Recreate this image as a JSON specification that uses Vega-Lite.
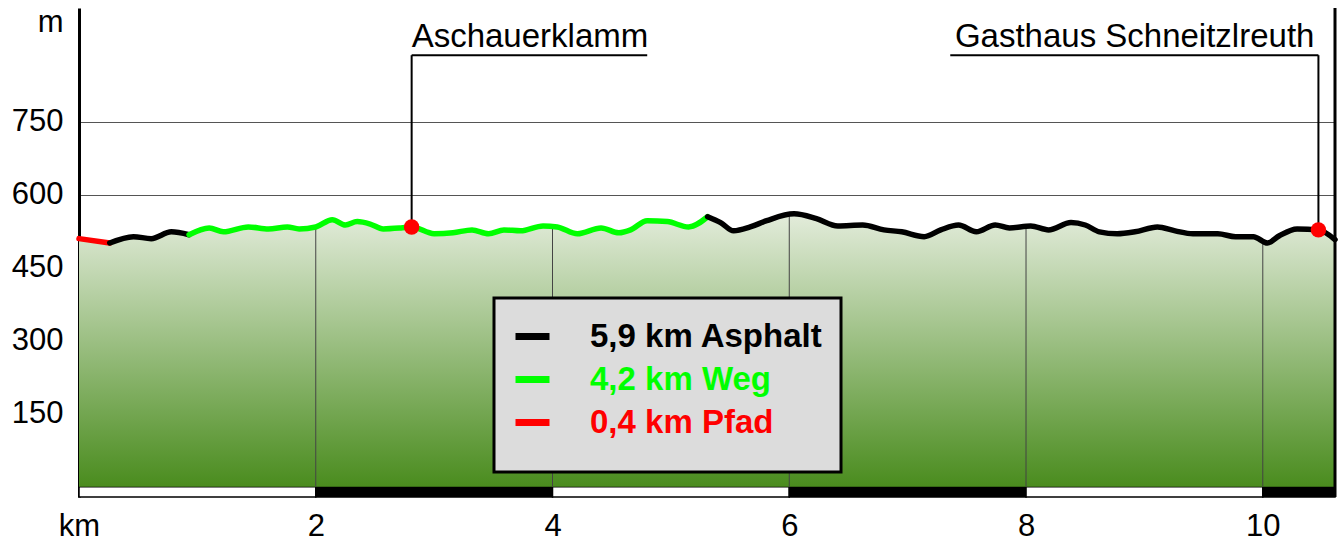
{
  "$schema": "https://vega.github.io/schema/vega-lite/v6.json",
  "autosize": {"type": "none"},
  "width": 1256,
  "height": 489,
  "padding": {"left": 79, "top": 8, "right": 5, "bottom": 46},
  "background": "#ffffff",
  "config": {
    "view": {"stroke": null},
    "font": "Liberation Sans",
    "axisX": {"domain": false, "ticks": false, "grid": false, "labelFont": "Liberation Sans", "labelFontSize": 31, "labelColor": "#000000", "labelPadding": 14, "labelFlush": false, "labelAngle": 0},
    "axisY": {"ticks": false, "domain": true, "domainColor": "#000000", "domainWidth": 3, "grid": true, "gridColor": "#555555", "gridWidth": 1, "labelFont": "Liberation Sans", "labelFontSize": 31, "labelColor": "#000000", "labelPadding": 16, "labelFlush": false, "zindex": 1}
  },
  "datasets": {
    "profil": [
      {"km": 0.00, "hoehe": 510, "belag": "Pfad", "abschnitt": 1},
      {"km": 0.26, "hoehe": 501, "belag": "Pfad", "abschnitt": 1},
      {"km": 0.26, "hoehe": 501, "belag": "Asphalt", "abschnitt": 2},
      {"km": 0.46, "hoehe": 514, "belag": "Asphalt", "abschnitt": 2},
      {"km": 0.61, "hoehe": 510, "belag": "Asphalt", "abschnitt": 2},
      {"km": 0.78, "hoehe": 524, "belag": "Asphalt", "abschnitt": 2},
      {"km": 0.93, "hoehe": 518, "belag": "Asphalt", "abschnitt": 2},
      {"km": 0.93, "hoehe": 518, "belag": "Weg", "abschnitt": 3},
      {"km": 1.10, "hoehe": 532, "belag": "Weg", "abschnitt": 3},
      {"km": 1.22, "hoehe": 524, "belag": "Weg", "abschnitt": 3},
      {"km": 1.43, "hoehe": 534, "belag": "Weg", "abschnitt": 3},
      {"km": 1.60, "hoehe": 530, "belag": "Weg", "abschnitt": 3},
      {"km": 1.76, "hoehe": 534, "belag": "Weg", "abschnitt": 3},
      {"km": 1.86, "hoehe": 530, "belag": "Weg", "abschnitt": 3},
      {"km": 2.00, "hoehe": 534, "belag": "Weg", "abschnitt": 3},
      {"km": 2.14, "hoehe": 549, "belag": "Weg", "abschnitt": 3},
      {"km": 2.25, "hoehe": 538, "belag": "Weg", "abschnitt": 3},
      {"km": 2.35, "hoehe": 545, "belag": "Weg", "abschnitt": 3},
      {"km": 2.46, "hoehe": 540, "belag": "Weg", "abschnitt": 3},
      {"km": 2.57, "hoehe": 530, "belag": "Weg", "abschnitt": 3},
      {"km": 2.72, "hoehe": 532, "belag": "Weg", "abschnitt": 3},
      {"km": 2.81, "hoehe": 534, "belag": "Weg", "abschnitt": 3},
      {"km": 3.00, "hoehe": 520, "belag": "Weg", "abschnitt": 3},
      {"km": 3.16, "hoehe": 522, "belag": "Weg", "abschnitt": 3},
      {"km": 3.32, "hoehe": 528, "belag": "Weg", "abschnitt": 3},
      {"km": 3.46, "hoehe": 520, "belag": "Weg", "abschnitt": 3},
      {"km": 3.59, "hoehe": 528, "belag": "Weg", "abschnitt": 3},
      {"km": 3.73, "hoehe": 526, "belag": "Weg", "abschnitt": 3},
      {"km": 3.92, "hoehe": 536, "belag": "Weg", "abschnitt": 3},
      {"km": 4.04, "hoehe": 534, "belag": "Weg", "abschnitt": 3},
      {"km": 4.21, "hoehe": 520, "belag": "Weg", "abschnitt": 3},
      {"km": 4.41, "hoehe": 532, "belag": "Weg", "abschnitt": 3},
      {"km": 4.56, "hoehe": 522, "belag": "Weg", "abschnitt": 3},
      {"km": 4.66, "hoehe": 528, "belag": "Weg", "abschnitt": 3},
      {"km": 4.80, "hoehe": 547, "belag": "Weg", "abschnitt": 3},
      {"km": 4.97, "hoehe": 545, "belag": "Weg", "abschnitt": 3},
      {"km": 5.15, "hoehe": 534, "belag": "Weg", "abschnitt": 3},
      {"km": 5.31, "hoehe": 555, "belag": "Weg", "abschnitt": 3},
      {"km": 5.31, "hoehe": 555, "belag": "Asphalt", "abschnitt": 4},
      {"km": 5.42, "hoehe": 543, "belag": "Asphalt", "abschnitt": 4},
      {"km": 5.53, "hoehe": 526, "belag": "Asphalt", "abschnitt": 4},
      {"km": 5.67, "hoehe": 534, "belag": "Asphalt", "abschnitt": 4},
      {"km": 5.81, "hoehe": 547, "belag": "Asphalt", "abschnitt": 4},
      {"km": 6.04, "hoehe": 561, "belag": "Asphalt", "abschnitt": 4},
      {"km": 6.23, "hoehe": 551, "belag": "Asphalt", "abschnitt": 4},
      {"km": 6.41, "hoehe": 536, "belag": "Asphalt", "abschnitt": 4},
      {"km": 6.62, "hoehe": 538, "belag": "Asphalt", "abschnitt": 4},
      {"km": 6.80, "hoehe": 528, "belag": "Asphalt", "abschnitt": 4},
      {"km": 6.95, "hoehe": 524, "belag": "Asphalt", "abschnitt": 4},
      {"km": 7.14, "hoehe": 514, "belag": "Asphalt", "abschnitt": 4},
      {"km": 7.28, "hoehe": 528, "belag": "Asphalt", "abschnitt": 4},
      {"km": 7.43, "hoehe": 538, "belag": "Asphalt", "abschnitt": 4},
      {"km": 7.58, "hoehe": 524, "belag": "Asphalt", "abschnitt": 4},
      {"km": 7.74, "hoehe": 538, "belag": "Asphalt", "abschnitt": 4},
      {"km": 7.86, "hoehe": 532, "belag": "Asphalt", "abschnitt": 4},
      {"km": 8.04, "hoehe": 536, "belag": "Asphalt", "abschnitt": 4},
      {"km": 8.19, "hoehe": 528, "belag": "Asphalt", "abschnitt": 4},
      {"km": 8.38, "hoehe": 543, "belag": "Asphalt", "abschnitt": 4},
      {"km": 8.50, "hoehe": 538, "belag": "Asphalt", "abschnitt": 4},
      {"km": 8.62, "hoehe": 524, "belag": "Asphalt", "abschnitt": 4},
      {"km": 8.77, "hoehe": 520, "belag": "Asphalt", "abschnitt": 4},
      {"km": 8.92, "hoehe": 524, "belag": "Asphalt", "abschnitt": 4},
      {"km": 9.11, "hoehe": 534, "belag": "Asphalt", "abschnitt": 4},
      {"km": 9.26, "hoehe": 526, "belag": "Asphalt", "abschnitt": 4},
      {"km": 9.41, "hoehe": 520, "belag": "Asphalt", "abschnitt": 4},
      {"km": 9.62, "hoehe": 520, "belag": "Asphalt", "abschnitt": 4},
      {"km": 9.77, "hoehe": 514, "belag": "Asphalt", "abschnitt": 4},
      {"km": 9.92, "hoehe": 514, "belag": "Asphalt", "abschnitt": 4},
      {"km": 10.04, "hoehe": 501, "belag": "Asphalt", "abschnitt": 4},
      {"km": 10.14, "hoehe": 516, "belag": "Asphalt", "abschnitt": 4},
      {"km": 10.29, "hoehe": 530, "belag": "Asphalt", "abschnitt": 4},
      {"km": 10.47, "hoehe": 528, "belag": "Asphalt", "abschnitt": 4},
      {"km": 10.61, "hoehe": 508, "belag": "Asphalt", "abschnitt": 4}
    ],
    "gitter": [
      {"km": 2, "hoehe": 534},
      {"km": 4, "hoehe": 535},
      {"km": 6, "hoehe": 560},
      {"km": 8, "hoehe": 535},
      {"km": 10, "hoehe": 505}
    ],
    "massstab": [
      {"von": 0, "bis": 2, "band": "hell"},
      {"von": 2, "bis": 4, "band": "dunkel"},
      {"von": 4, "bis": 6, "band": "hell"},
      {"von": 6, "bis": 8, "band": "dunkel"},
      {"von": 8, "bis": 10, "band": "hell"},
      {"von": 10, "bis": 10.61, "band": "dunkel"}
    ],
    "orte": [
      {"name": "Aschauerklamm", "km": 2.81, "hoehe": 534, "linie_bis": 4.8, "seite": "links"},
      {"name": "Gasthaus Schneitzlreuth", "km": 10.47, "hoehe": 528, "linie_bis": 7.36, "seite": "rechts"}
    ],
    "ende": [
      {"km": 10.61, "unten": -21, "oben": 984}
    ]
  },
  "layer": [
    {
      "data": {"name": "massstab"},
      "mark": {"type": "rect", "stroke": "#000000", "strokeWidth": 1.5},
      "encoding": {
        "x": {"field": "von", "type": "quantitative", "scale": {"domain": [0, 10.61], "nice": false, "zero": false},
          "axis": {"values": [0, 2, 4, 6, 8, 10], "labelExpr": "datum.value == 0 ? 'km' : datum.label", "title": null}},
        "x2": {"field": "bis"},
        "y": {"datum": -21, "type": "quantitative", "scale": {"domain": [-21, 984], "nice": false, "zero": false},
          "axis": {"values": [150, 300, 450, 600, 750, 955], "labelExpr": "datum.value > 900 ? 'm' : datum.label", "title": null,
            "gridOpacity": {"condition": {"test": "datum.value > 900", "value": 0}, "value": 1}}},
        "y2": {"datum": 0},
        "fill": {"field": "band", "type": "nominal", "scale": {"domain": ["hell", "dunkel"], "range": ["#ffffff", "#000000"]}, "legend": null}
      }
    },
    {
      "data": {"name": "profil"},
      "transform": [
        {"aggregate": [{"op": "max", "field": "hoehe", "as": "hoehe"}], "groupby": ["km"]}
      ],
      "mark": {
        "type": "area",
        "interpolate": "monotone",
        "color": {
          "gradient": "linear", "x1": 0, "y1": 0, "x2": 0, "y2": 1,
          "stops": [{"offset": 0, "color": "#e3ecdb"}, {"offset": 1, "color": "#4a8c1e"}]
        }
      },
      "encoding": {
        "x": {"field": "km", "type": "quantitative",
          "axis": {"values": [0, 2, 4, 6, 8, 10], "labelExpr": "datum.value == 0 ? 'km' : datum.label", "title": null}},
        "y": {"field": "hoehe", "type": "quantitative",
          "axis": {"values": [150, 300, 450, 600, 750, 955], "labelExpr": "datum.value > 900 ? 'm' : datum.label", "title": null,
            "gridOpacity": {"condition": {"test": "datum.value > 900", "value": 0}, "value": 1}}},
        "y2": {"datum": 0}
      }
    },
    {
      "data": {"name": "gitter"},
      "mark": {"type": "rule", "color": "#444444", "strokeWidth": 1},
      "encoding": {
        "x": {"field": "km", "type": "quantitative",
          "axis": {"values": [0, 2, 4, 6, 8, 10], "labelExpr": "datum.value == 0 ? 'km' : datum.label", "title": null}},
        "y": {"field": "hoehe", "type": "quantitative",
          "axis": {"values": [150, 300, 450, 600, 750, 955], "labelExpr": "datum.value > 900 ? 'm' : datum.label", "title": null,
            "gridOpacity": {"condition": {"test": "datum.value > 900", "value": 0}, "value": 1}}},
        "y2": {"datum": 0}
      }
    },
    {
      "data": {"name": "ende"},
      "mark": {"type": "rule", "color": "#000000", "strokeWidth": 3},
      "encoding": {
        "x": {"field": "km", "type": "quantitative",
          "axis": {"values": [0, 2, 4, 6, 8, 10], "labelExpr": "datum.value == 0 ? 'km' : datum.label", "title": null}},
        "y": {"field": "unten", "type": "quantitative",
          "axis": {"values": [150, 300, 450, 600, 750, 955], "labelExpr": "datum.value > 900 ? 'm' : datum.label", "title": null,
            "gridOpacity": {"condition": {"test": "datum.value > 900", "value": 0}, "value": 1}}},
        "y2": {"field": "oben"}
      }
    },
    {
      "data": {"name": "profil"},
      "mark": {"type": "line", "interpolate": "monotone", "strokeWidth": 5.5, "strokeJoin": "round", "strokeCap": "round"},
      "encoding": {
        "x": {"field": "km", "type": "quantitative",
          "axis": {"values": [0, 2, 4, 6, 8, 10], "labelExpr": "datum.value == 0 ? 'km' : datum.label", "title": null}},
        "y": {"field": "hoehe", "type": "quantitative",
          "axis": {"values": [150, 300, 450, 600, 750, 955], "labelExpr": "datum.value > 900 ? 'm' : datum.label", "title": null,
            "gridOpacity": {"condition": {"test": "datum.value > 900", "value": 0}, "value": 1}}},
        "detail": {"field": "abschnitt", "type": "nominal"},
        "order": {"field": "km", "type": "quantitative"},
        "color": {
          "field": "belag", "type": "nominal",
          "scale": {"domain": ["Asphalt", "Weg", "Pfad"], "range": ["#000000", "#00ff00", "#ff0000"]},
          "legend": {
            "orient": "none", "legendX": 415, "legendY": 290,
            "direction": "vertical",
            "title": " ", "titleOrient": "bottom", "titleFontSize": 12, "titlePadding": 3,
            "padding": 18,
            "fillColor": "#dcdcdc", "strokeColor": "#000000",
            "symbolType": "stroke", "symbolSize": 1156, "symbolStrokeWidth": 7,
            "labelOffset": 37, "labelFont": "Liberation Sans", "labelFontSize": 33, "labelFontWeight": "bold",
            "labelLimit": 500, "rowPadding": 5,
            "labelExpr": "datum.value == 'Asphalt' ? '5,9 km Asphalt' : datum.value == 'Weg' ? '4,2 km Weg' : '0,4 km Pfad'",
            "encoding": {
              "legend": {"strokeWidth": {"value": 3}},
              "labels": {"fill": {"condition": [
                {"test": "datum.value === 'Weg'", "value": "#00ff00"},
                {"test": "datum.value === 'Pfad'", "value": "#ff0000"}
              ], "value": "#000000"}}
            }
          }
        }
      }
    },
    {
      "data": {"name": "orte"},
      "mark": {"type": "rule", "color": "#000000", "strokeWidth": 2},
      "encoding": {
        "x": {"field": "km", "type": "quantitative",
          "axis": {"values": [0, 2, 4, 6, 8, 10], "labelExpr": "datum.value == 0 ? 'km' : datum.label", "title": null}},
        "y": {"field": "hoehe", "type": "quantitative",
          "axis": {"values": [150, 300, 450, 600, 750, 955], "labelExpr": "datum.value > 900 ? 'm' : datum.label", "title": null,
            "gridOpacity": {"condition": {"test": "datum.value > 900", "value": 0}, "value": 1}}},
        "y2": {"datum": 887}
      }
    },
    {
      "data": {"name": "orte"},
      "mark": {"type": "rule", "color": "#000000", "strokeWidth": 2},
      "encoding": {
        "x": {"field": "km", "type": "quantitative",
          "axis": {"values": [0, 2, 4, 6, 8, 10], "labelExpr": "datum.value == 0 ? 'km' : datum.label", "title": null}},
        "x2": {"field": "linie_bis"},
        "y": {"datum": 887, "type": "quantitative",
          "axis": {"values": [150, 300, 450, 600, 750, 955], "labelExpr": "datum.value > 900 ? 'm' : datum.label", "title": null,
            "gridOpacity": {"condition": {"test": "datum.value > 900", "value": 0}, "value": 1}}}
      }
    },
    {
      "data": {"name": "orte"},
      "mark": {"type": "point", "filled": true, "color": "#ff0000", "opacity": 1, "size": 240},
      "encoding": {
        "x": {"field": "km", "type": "quantitative",
          "axis": {"values": [0, 2, 4, 6, 8, 10], "labelExpr": "datum.value == 0 ? 'km' : datum.label", "title": null}},
        "y": {"field": "hoehe", "type": "quantitative",
          "axis": {"values": [150, 300, 450, 600, 750, 955], "labelExpr": "datum.value > 900 ? 'm' : datum.label", "title": null,
            "gridOpacity": {"condition": {"test": "datum.value > 900", "value": 0}, "value": 1}}}
      }
    },
    {
      "data": {"name": "orte"},
      "transform": [{"filter": "datum.seite === 'links'"}],
      "mark": {"type": "text", "align": "left", "baseline": "alphabetic", "font": "Liberation Sans", "fontSize": 33, "color": "#000000"},
      "encoding": {
        "x": {"field": "km", "type": "quantitative",
          "axis": {"values": [0, 2, 4, 6, 8, 10], "labelExpr": "datum.value == 0 ? 'km' : datum.label", "title": null}},
        "y": {"datum": 904, "type": "quantitative",
          "axis": {"values": [150, 300, 450, 600, 750, 955], "labelExpr": "datum.value > 900 ? 'm' : datum.label", "title": null,
            "gridOpacity": {"condition": {"test": "datum.value > 900", "value": 0}, "value": 1}}},
        "text": {"field": "name"}
      }
    },
    {
      "data": {"name": "orte"},
      "transform": [{"filter": "datum.seite === 'rechts'"}],
      "mark": {"type": "text", "align": "right", "baseline": "alphabetic", "dx": -4, "font": "Liberation Sans", "fontSize": 33, "color": "#000000"},
      "encoding": {
        "x": {"field": "km", "type": "quantitative",
          "axis": {"values": [0, 2, 4, 6, 8, 10], "labelExpr": "datum.value == 0 ? 'km' : datum.label", "title": null}},
        "y": {"datum": 904, "type": "quantitative",
          "axis": {"values": [150, 300, 450, 600, 750, 955], "labelExpr": "datum.value > 900 ? 'm' : datum.label", "title": null,
            "gridOpacity": {"condition": {"test": "datum.value > 900", "value": 0}, "value": 1}}},
        "text": {"field": "name"}
      }
    }
  ]
}
